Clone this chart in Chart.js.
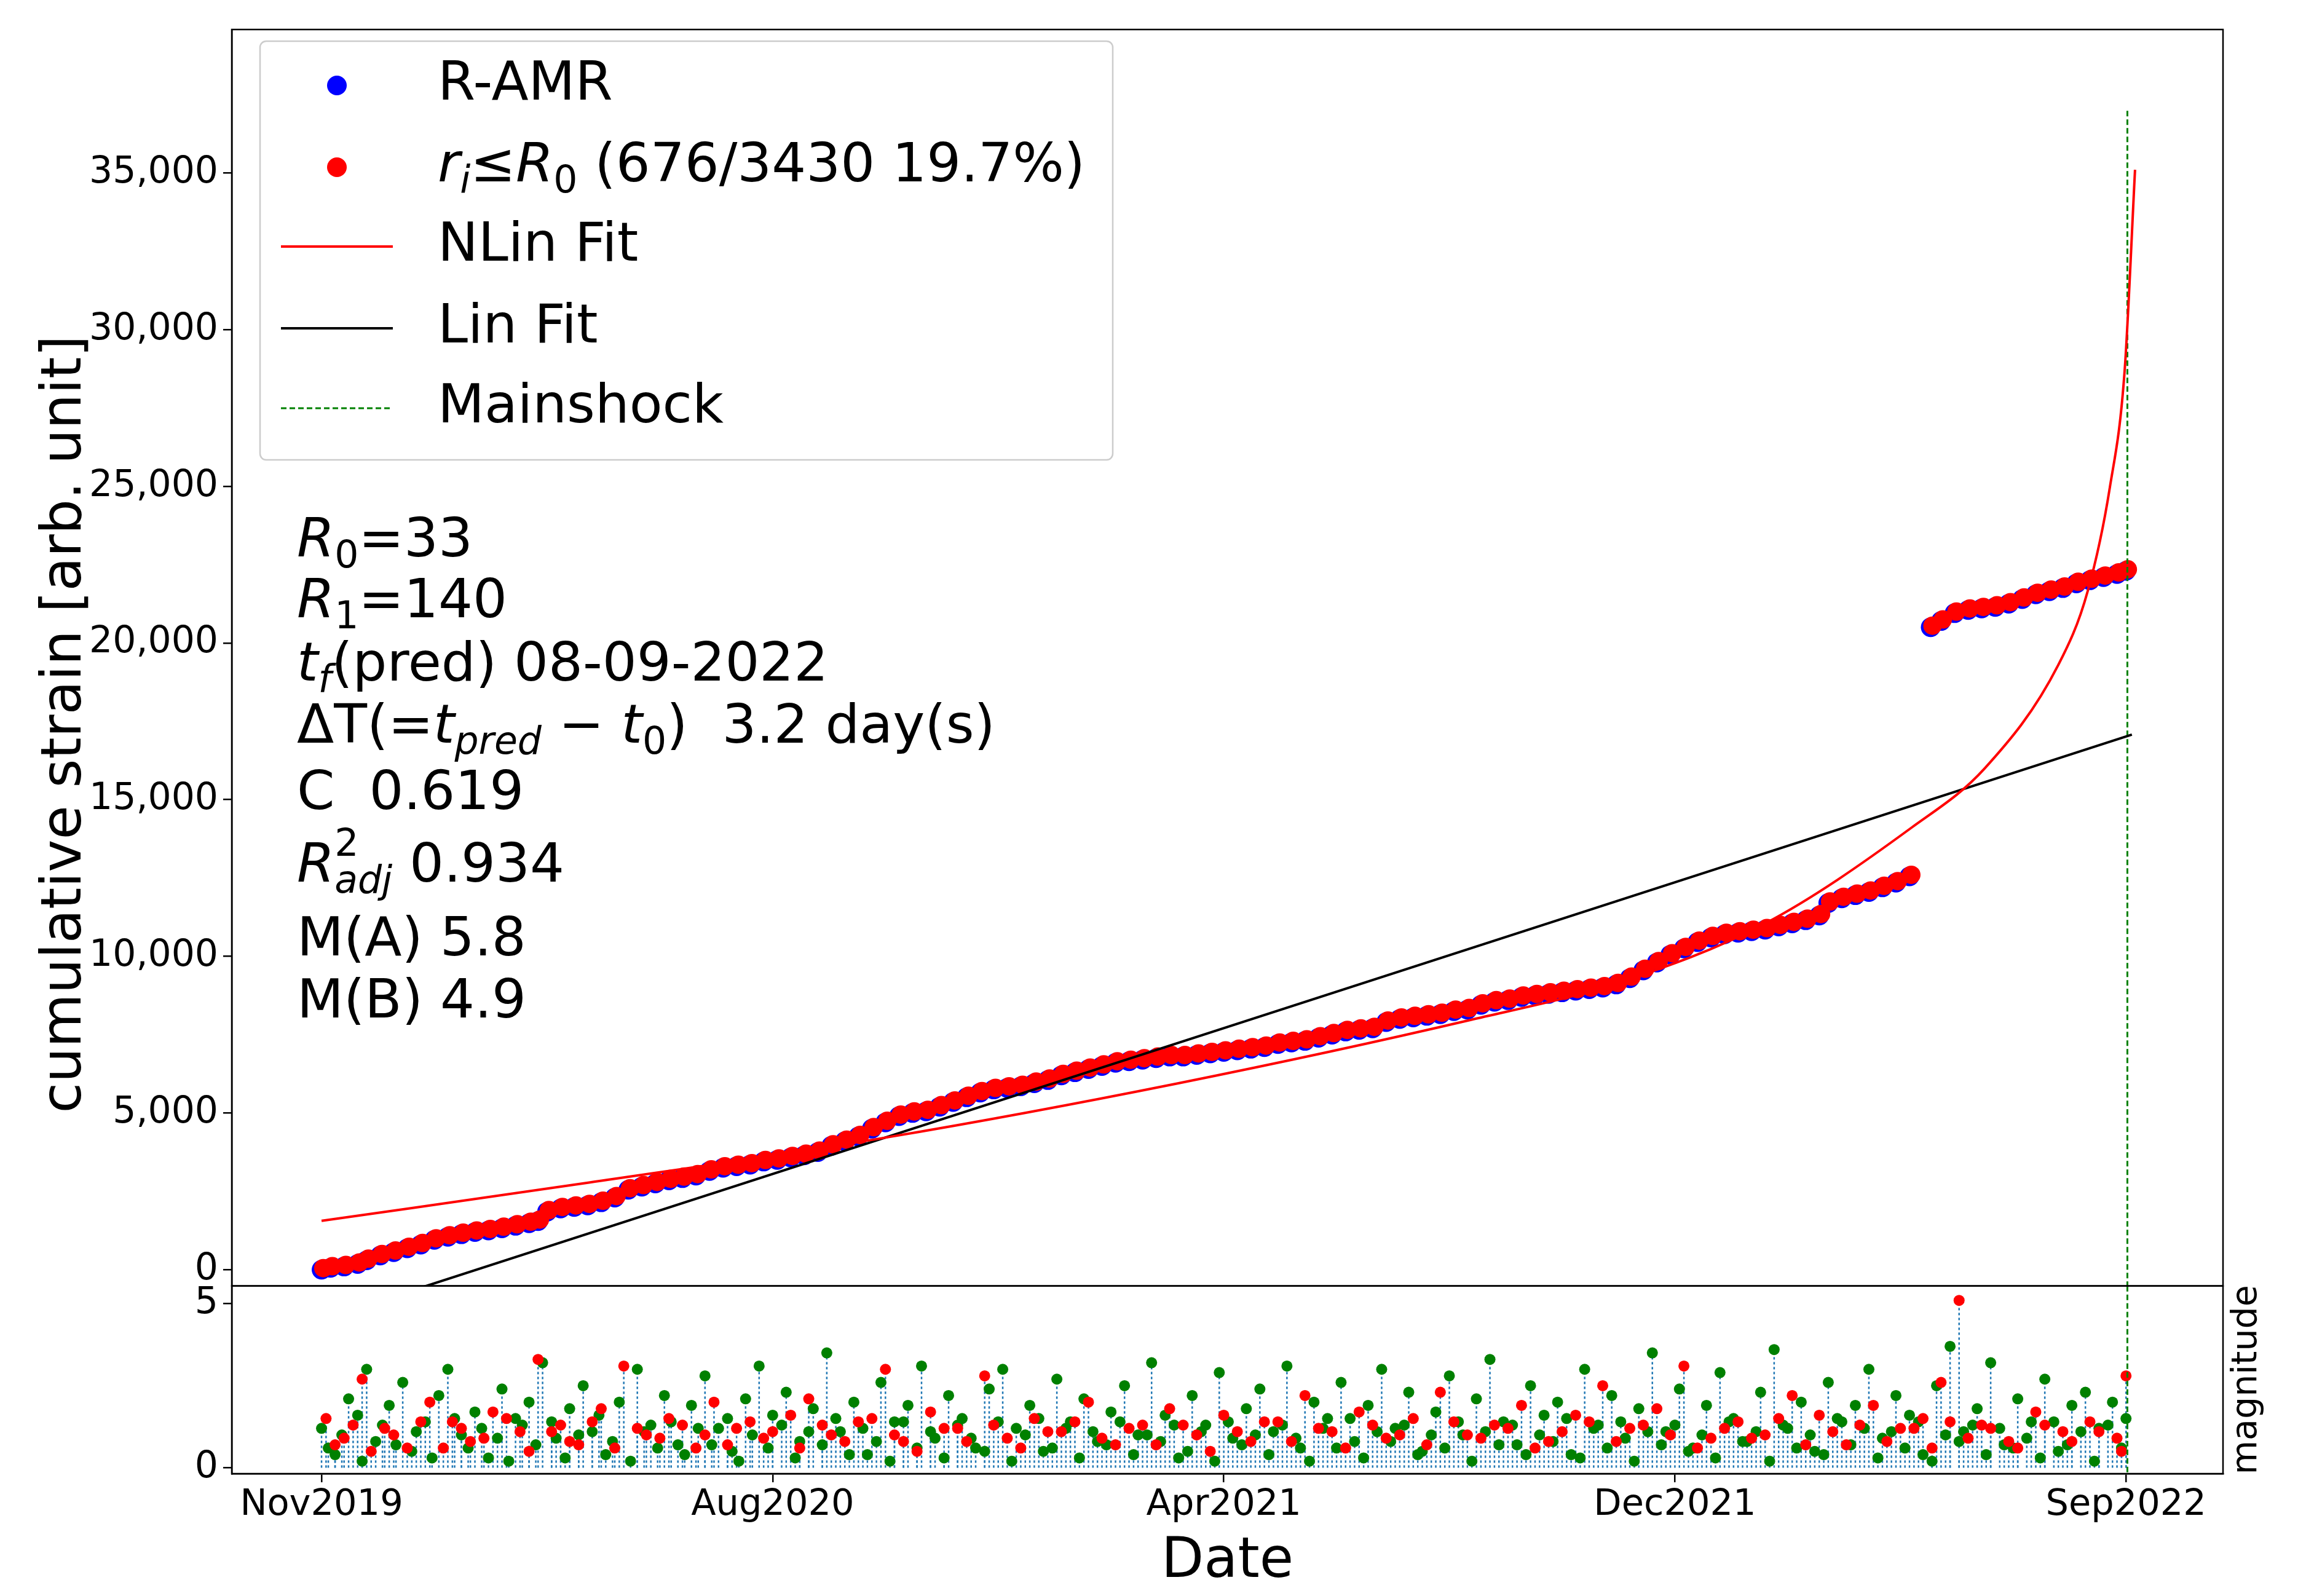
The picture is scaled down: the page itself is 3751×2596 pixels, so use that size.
<!DOCTYPE html>
<html><head><meta charset="utf-8">
<script src="https://cdn.jsdelivr.net/npm/chart.js@4"></script>
<style>body{margin:0;background:#fff;width:3751px;height:2596px;overflow:hidden}canvas{position:absolute;left:0;top:0}</style>
</head><body>
<canvas id="c1" width="3751" height="2596"></canvas>
<script>
// x in units: 0=Nov2019, 1=Aug2020, 2=Apr2021, 3=Dec2021, 4=Sep2022
const tickLabels=['Nov2019','Aug2020','Apr2021','Dec2021','Sep2022'];
const strainA=[[0,0],[0.02,60],[0.05,100],[0.08,180],[0.10,300],[0.13,450],[0.16,560],[0.19,680],[0.22,800],[0.25,950],[0.28,1050],[0.31,1130],[0.34,1200],[0.37,1250],[0.40,1320],[0.43,1400],[0.46,1480],[0.48,1550],[0.50,1850],[0.53,1950],[0.56,2000],[0.59,2050],[0.62,2150],[0.65,2300],[0.68,2550],[0.71,2650],[0.74,2750],[0.77,2850],[0.80,2920],[0.83,3000],[0.86,3150],[0.89,3250],[0.92,3300],[0.95,3350],[0.98,3450],[1.01,3500],[1.04,3580],[1.07,3650],[1.10,3750],[1.13,3950],[1.16,4100],[1.19,4250],[1.22,4500],[1.25,4700],[1.28,4900],[1.31,5000],[1.34,5050],[1.37,5200],[1.40,5350],[1.43,5500],[1.46,5650],[1.49,5750],[1.52,5800],[1.55,5850],[1.58,5950],[1.61,6050],[1.64,6200],[1.67,6300],[1.70,6400],[1.73,6500],[1.76,6600],[1.79,6650],[1.82,6700],[1.85,6750],[1.88,6800],[1.91,6800],[1.94,6850],[1.97,6900],[2.00,6950],[2.03,7000],[2.06,7050],[2.09,7100],[2.12,7200],[2.15,7250],[2.18,7300],[2.21,7400],[2.24,7500],[2.27,7600],[2.30,7650],[2.33,7700],[2.36,7900],[2.39,8000],[2.42,8050],[2.45,8100],[2.48,8150],[2.51,8250],[2.54,8300],[2.57,8450],[2.60,8550],[2.63,8600],[2.66,8700],[2.69,8750],[2.72,8800],[2.75,8850],[2.78,8900],[2.81,8950],[2.84,9000],[2.87,9100],[2.90,9300],[2.93,9550],[2.96,9800],[2.99,10050],[3.02,10250],[3.05,10450],[3.08,10600],[3.11,10700],[3.14,10750],[3.17,10800],[3.20,10850],[3.23,10950],[3.26,11050],[3.29,11150],[3.32,11300],[3.34,11700],[3.37,11850],[3.40,11950],[3.43,12050],[3.46,12200],[3.49,12350],[3.52,12550]];
const strainB=[[3.567,20500],[3.59,20700],[3.62,20950],[3.65,21050],[3.68,21100],[3.71,21150],[3.74,21250],[3.77,21400],[3.80,21550],[3.83,21650],[3.86,21750],[3.89,21900],[3.92,22000],[3.95,22100],[3.98,22200],[4.00,22300]];
const nlinX=[0,0.593,1.244,1.896,2.547,2.873,3.199,3.524,3.687,3.85,3.915,3.964,3.997,4.02];
const nlinY=[1557,2780,4200,5940,7970,9150,11040,14100,16000,19300,21650,24950,28700,35100];
const linX=[0.212,4.013], linY=[-613,17075];
const mainshockX=4.003;
const greenMag=[[0.00,1.2],[0.03,0.4],[0.06,2.1],[0.08,1.6],[0.1,3.0],[0.12,0.8],[0.15,1.9],[0.18,2.6],[0.2,0.5],[0.23,1.4],[0.26,2.2],[0.28,3.0],[0.31,1.0],[0.34,1.7],[0.37,0.3],[0.4,2.4],[0.43,1.5],[0.46,2.0],[0.49,3.2],[0.52,0.9],[0.55,1.8],[0.58,2.5],[0.6,1.1],[0.63,0.4],[0.66,2.0],[0.7,3.0],[0.73,1.3],[0.76,2.2],[0.79,0.7],[0.82,1.9],[0.85,2.8],[0.88,1.2],[0.91,0.5],[0.94,2.1],[0.97,3.1],[1.0,1.6],[1.03,2.3],[1.06,0.8],[1.09,1.8],[1.12,3.5],[1.15,1.1],[1.18,2.0],[1.21,0.4],[1.24,2.6],[1.27,1.4],[1.3,1.9],[1.33,3.1],[1.36,0.9],[1.39,2.2],[1.42,1.5],[1.45,0.6],[1.48,2.4],[1.51,3.0],[1.54,1.2],[1.57,1.9],[1.6,0.5],[1.63,2.7],[1.66,1.4],[1.69,2.1],[1.72,0.8],[1.75,1.7],[1.78,2.5],[1.81,1.0],[1.84,3.2],[1.87,1.6],[1.9,0.3],[1.93,2.2],[1.96,1.3],[1.99,2.9],[2.02,0.9],[2.05,1.8],[2.08,2.4],[2.11,1.1],[2.14,3.1],[2.17,0.6],[2.2,2.0],[2.23,1.5],[2.26,2.6],[2.29,0.8],[2.32,1.9],[2.35,3.0],[2.38,1.2],[2.41,2.3],[2.44,0.5],[2.47,1.7],[2.5,2.8],[2.53,1.0],[2.56,2.1],[2.59,3.3],[2.62,1.4],[2.65,0.7],[2.68,2.5],[2.71,1.6],[2.74,2.0],[2.77,0.4],[2.8,3.0],[2.83,1.3],[2.86,2.2],[2.89,0.9],[2.92,1.8],[2.95,3.5],[2.98,1.1],[3.01,2.4],[3.04,0.6],[3.07,1.9],[3.1,2.9],[3.13,1.5],[3.16,0.8],[3.19,2.3],[3.22,3.6],[3.25,1.2],[3.28,2.0],[3.31,0.5],[3.34,2.6],[3.37,1.4],[3.4,1.9],[3.43,3.0],[3.46,0.9],[3.49,2.2],[3.52,1.6],[3.55,0.4],[3.58,2.5],[3.61,3.7],[3.64,1.1],[3.67,1.8],[3.7,3.2],[3.73,0.7],[3.76,2.1],[3.79,1.4],[3.82,2.7],[3.85,0.5],[3.88,1.9],[3.91,2.3],[3.94,1.2],[3.97,2.0],[4.0,1.5]];
const greenMag2=[[0.015,0.6],[0.045,1.0],[0.09,0.2],[0.135,1.3],[0.165,0.7],[0.21,1.1],[0.245,0.3],[0.295,1.5],[0.325,0.6],[0.355,1.2],[0.39,0.9],[0.415,0.2],[0.445,1.3],[0.475,0.7],[0.51,1.4],[0.54,0.3],[0.57,1.0],[0.615,1.6],[0.645,0.8],[0.685,0.2],[0.715,1.1],[0.745,0.6],[0.775,1.4],[0.805,0.4],[0.835,1.2],[0.865,0.7],[0.9,1.5],[0.925,0.2],[0.955,1.0],[0.99,0.6],[1.02,1.3],[1.05,0.3],[1.08,1.1],[1.11,0.7],[1.14,1.5],[1.17,0.4],[1.2,1.2],[1.23,0.8],[1.26,0.2],[1.29,1.4],[1.32,0.6],[1.35,1.1],[1.38,0.3],[1.41,1.3],[1.44,0.9],[1.47,0.5],[1.5,1.4],[1.53,0.2],[1.56,1.0],[1.59,1.5],[1.62,0.6],[1.65,1.2],[1.68,0.3],[1.71,1.1],[1.74,0.7],[1.77,1.4],[1.8,0.4],[1.83,1.0],[1.86,0.8],[1.89,1.3],[1.92,0.5],[1.95,1.1],[1.98,0.2],[2.01,1.4],[2.04,0.7],[2.07,1.0],[2.1,0.4],[2.13,1.3],[2.16,0.9],[2.19,0.2],[2.22,1.2],[2.25,0.6],[2.28,1.5],[2.31,0.3],[2.34,1.1],[2.37,0.8],[2.4,1.3],[2.43,0.4],[2.46,1.0],[2.49,0.6],[2.52,1.4],[2.55,0.2],[2.58,1.1],[2.61,0.7],[2.64,1.3],[2.67,0.4],[2.7,1.0],[2.73,0.8],[2.76,1.5],[2.79,0.3],[2.82,1.2],[2.85,0.6],[2.88,1.4],[2.91,0.2],[2.94,1.1],[2.97,0.7],[3.0,1.3],[3.03,0.5],[3.06,1.0],[3.09,0.3],[3.12,1.4],[3.15,0.8],[3.18,1.1],[3.21,0.2],[3.24,1.3],[3.27,0.6],[3.3,1.0],[3.33,0.4],[3.36,1.5],[3.39,0.7],[3.42,1.2],[3.45,0.3],[3.48,1.1],[3.51,0.6],[3.54,1.4],[3.57,0.2],[3.6,1.0],[3.63,0.8],[3.66,1.3],[3.69,0.4],[3.72,1.2],[3.75,0.6],[3.78,0.9],[3.81,0.3],[3.84,1.4],[3.87,0.7],[3.9,1.1],[3.93,0.2],[3.96,1.3],[3.99,0.6]];
const redMag=[[0.01,1.5],[0.05,0.9],[0.09,2.7],[0.14,1.2],[0.19,0.6],[0.24,2.0],[0.29,1.4],[0.33,0.8],[0.38,1.7],[0.44,1.1],[0.48,3.3],[0.53,1.3],[0.57,0.7],[0.62,1.8],[0.67,3.1],[0.72,1.0],[0.77,1.5],[0.83,0.6],[0.87,2.0],[0.92,1.2],[0.98,0.9],[1.04,1.6],[1.08,2.1],[1.13,1.0],[1.19,1.4],[1.25,3.0],[1.29,0.8],[1.35,1.7],[1.41,1.2],[1.47,2.8],[1.52,0.9],[1.58,1.5],[1.64,1.1],[1.7,2.0],[1.76,0.7],[1.82,1.3],[1.88,1.8],[1.94,1.0],[2.0,1.6],[2.06,0.8],[2.12,1.4],[2.18,2.2],[2.24,1.1],[2.3,1.7],[2.36,0.9],[2.42,1.5],[2.48,2.3],[2.54,1.0],[2.6,1.3],[2.66,1.9],[2.72,0.8],[2.78,1.6],[2.84,2.5],[2.9,1.2],[2.96,1.8],[3.02,3.1],[3.08,0.9],[3.14,1.4],[3.2,1.0],[3.26,2.2],[3.32,1.6],[3.38,0.7],[3.44,1.9],[3.5,1.2],[3.55,1.5],[3.59,2.6],[3.63,5.1],[3.68,1.3],[3.74,0.8],[3.8,1.7],[3.86,1.1],[3.92,1.4],[3.98,0.9],[4.0,2.8]];
const redMag2=[[0.03,0.7],[0.07,1.3],[0.11,0.5],[0.16,1.0],[0.22,1.4],[0.27,0.6],[0.31,1.2],[0.36,0.9],[0.41,1.5],[0.46,0.5],[0.51,1.1],[0.55,0.8],[0.6,1.4],[0.65,0.6],[0.7,1.2],[0.75,0.9],[0.8,1.3],[0.85,1.0],[0.9,0.7],[0.95,1.4],[1.0,1.1],[1.06,0.6],[1.11,1.3],[1.16,0.8],[1.22,1.5],[1.27,1.0],[1.32,0.5],[1.38,1.2],[1.43,0.8],[1.49,1.3],[1.55,0.6],[1.61,1.1],[1.67,1.4],[1.73,0.9],[1.79,1.2],[1.85,0.7],[1.91,1.3],[1.97,0.5],[2.03,1.1],[2.09,1.4],[2.15,0.8],[2.21,1.2],[2.27,0.6],[2.33,1.3],[2.39,1.0],[2.45,0.7],[2.51,1.4],[2.57,0.9],[2.63,1.2],[2.69,0.6],[2.75,1.1],[2.81,1.4],[2.87,0.8],[2.93,1.3],[2.99,1.0],[3.05,0.6],[3.11,1.2],[3.17,0.9],[3.23,1.5],[3.29,0.7],[3.35,1.1],[3.41,1.3],[3.47,0.8],[3.53,1.2],[3.57,0.6],[3.61,1.4],[3.65,0.9],[3.7,1.2],[3.76,0.6],[3.82,1.3],[3.88,0.8],[3.94,1.1],[3.99,0.5]];

const F='DejaVu Sans';
const xy=a=>a.map(([x,y])=>({x,y}));
const strainPts=xy(strainA).concat(xy(strainB));
const frame={id:'frame',afterDraw(c){const a=c.chartArea,x=c.ctx;x.save();x.strokeStyle='#000';x.lineWidth=2.5;
  for(const id of ['y','ym']){const s=c.scales[id];x.strokeRect(a.left,s.top,a.right-a.left,s.bottom-s.top);}
  x.restore();}};
function rich(ctx,x,y,parts,size){
  for(const p of parts){const fs=p.s?size*0.7:size;ctx.font=(p.i?'italic ':'')+fs+'px '+F;
    const dy=p.s==='sub'?size*0.28:p.s==='sup'?-size*0.4:0;ctx.fillText(p.t,x,y+dy);
    if(!p.noadv)x+=ctx.measureText(p.t).width;}
}
const allMag=()=>greenMag.concat(greenMag2,redMag,redMag2);
const stems={id:'stems',beforeDatasetsDraw(c){const x=c.ctx,xs=c.scales.x,ys=c.scales.ym;x.save();x.strokeStyle='#1f77b4';x.lineWidth=2.5;x.setLineDash([4,4]);
  for(const [u,m] of allMag()){x.beginPath();x.moveTo(xs.getPixelForValue(u),ys.getPixelForValue(0));x.lineTo(xs.getPixelForValue(u),ys.getPixelForValue(m));x.stroke();}
  x.setLineDash([]);x.restore();}};
const textPlug={id:'txt',afterDraw(c){const x=c.ctx;x.save();x.textBaseline='middle';
  x.fillStyle='#fff';x.strokeStyle='#ccc';x.lineWidth=2.5;
  x.beginPath();x.roundRect(423,67,1387,681,10);x.fill();x.stroke();
  const ly=[139,272,401,534,664];
  x.fillStyle='blue';x.beginPath();x.arc(548,ly[0],16,0,7);x.fill();
  x.fillStyle='red';x.beginPath();x.arc(548,ly[1],16,0,7);x.fill();
  x.lineWidth=4;x.strokeStyle='red';x.beginPath();x.moveTo(457,ly[2]);x.lineTo(639,ly[2]);x.stroke();
  x.strokeStyle='#000';x.beginPath();x.moveTo(457,ly[3]);x.lineTo(639,ly[3]);x.stroke();
  x.strokeStyle='green';x.lineWidth=3;x.setLineDash([9,5]);x.beginPath();x.moveTo(457,ly[4]);x.lineTo(639,ly[4]);x.stroke();x.setLineDash([]);
  x.fillStyle='#000';const S=88;
  rich(x,712,ly[0],[{t:'R-AMR'}],S);
  rich(x,712,ly[1],[{t:'r',i:1},{t:'i',i:1,s:'sub'},{t:'≤'},{t:'R',i:1},{t:'0',s:'sub'},{t:' (676/3430 19.7%)'}],S);
  rich(x,712,ly[2],[{t:'NLin Fit'}],S);
  rich(x,712,ly[3],[{t:'Lin Fit'}],S);
  rich(x,712,ly[4],[{t:'Mainshock'}],S);
  const ax=483;
  rich(x,ax,882,[{t:'R',i:1},{t:'0',s:'sub'},{t:'=33'}],S);
  rich(x,ax,981,[{t:'R',i:1},{t:'1',s:'sub'},{t:'=140'}],S);
  rich(x,ax,1084,[{t:'t',i:1},{t:'f',i:1,s:'sub'},{t:'(pred) 08-09-2022'}],S);
  rich(x,ax,1185,[{t:'ΔT(='},{t:'t',i:1},{t:'pred',i:1,s:'sub'},{t:' − '},{t:'t',i:1},{t:'0',s:'sub'},{t:')  3.2 day(s)'}],S);
  rich(x,ax,1293,[{t:'C  0.619'}],S);
  rich(x,ax,1411,[{t:'R',i:1},{t:'2',s:'sup',noadv:1},{t:'adj',i:1,s:'sub'},{t:' 0.934'}],S);
  rich(x,ax,1531,[{t:'M(A) 5.8'}],S);
  rich(x,ax,1632,[{t:'M(B) 4.9'}],S);
  x.save();x.translate(108,1178);x.rotate(-Math.PI/2);x.textAlign='center';x.font='90px '+F;x.fillText('cumulative strain [arb. unit]',0,0);x.restore();
  const ym=c.scales.ym;x.translate(3655,(ym.top+ym.bottom)/2);x.rotate(-Math.PI/2);x.textAlign='center';x.font='57px '+F;x.fillText('magnitude',0,0);
  x.restore();}};
const xt={family:F,size:59}, yt={family:F,size:60};
const gridCfg={drawOnChartArea:false,tickLength:14,color:'#000',lineWidth:2.5};
new Chart(document.getElementById('c1'),{type:'scatter',
 data:{datasets:[
  {data:strainPts.map(p=>({x:p.x+0.004,y:p.y+50})),pointRadius:15,backgroundColor:'red',borderWidth:0,yAxisID:'y',order:1},
  {data:strainPts,pointRadius:16,backgroundColor:'blue',borderWidth:0,yAxisID:'y',order:2},
  {data:xy(nlinX.map((v,i)=>[v,nlinY[i]])),showLine:true,pointRadius:0,borderColor:'red',borderWidth:4,cubicInterpolationMode:'monotone',yAxisID:'y',order:0},
  {data:xy([[linX[0],linY[0]],[linX[1],linY[1]]]),showLine:true,pointRadius:0,borderColor:'#000',borderWidth:4,yAxisID:'y',order:0},
  {data:[{x:mainshockX,y:36980},{x:mainshockX,y:-519}],showLine:true,pointRadius:0,borderColor:'green',borderWidth:3,borderDash:[9,5],yAxisID:'y',order:0},
  {data:xy(redMag.concat(redMag2)),pointRadius:9,backgroundColor:'red',borderWidth:0,yAxisID:'ym',order:3},
  {data:xy(greenMag.concat(greenMag2)),pointRadius:9,backgroundColor:'green',borderWidth:0,yAxisID:'ym',order:4},
  {data:[{x:mainshockX,y:5.54},{x:mainshockX,y:-0.18}],showLine:true,pointRadius:0,borderColor:'green',borderWidth:3,borderDash:[9,5],yAxisID:'ym',order:0}
 ]},
 options:{responsive:false,devicePixelRatio:1,animation:false,events:[],
  layout:{padding:{top:48,right:135,left:0,bottom:0}},
  plugins:{legend:{display:false},tooltip:{enabled:false}},
  scales:{
   x:{type:'linear',min:-0.199,max:4.215,afterFit(s){s.height=199},
    afterBuildTicks(s){s.ticks=[0,1,2,3,4].map(v=>({value:v}))},
    ticks:{color:'#000',font:xt,padding:2,maxRotation:0,callback:v=>tickLabels[v]},
    grid:gridCfg,border:{color:'#000',width:2.5},
    title:{display:true,text:'Date',color:'#000',font:{family:F,size:90},padding:0}},
   ym:{stack:'s',stackWeight:127,offset:false,min:-0.18,max:5.54,afterFit(s){s.width=377},
    afterBuildTicks(s){s.ticks=[0,5].map(v=>({value:v}))},
    ticks:{color:'#000',font:yt,padding:8},
    grid:gridCfg,border:{color:'#000',width:2.5}},
   y:{stack:'s',stackWeight:850,offset:false,min:-519,max:39575,afterFit(s){s.width=377},
    afterBuildTicks(s){s.ticks=[0,5000,10000,15000,20000,25000,30000,35000].map(v=>({value:v}))},
    ticks:{color:'#000',font:yt,padding:8,callback:v=>v.toLocaleString('en-US')},
    grid:gridCfg,border:{color:'#000',width:2.5}}
  }},
 plugins:[stems,frame,textPlug]});
</script></body></html>
